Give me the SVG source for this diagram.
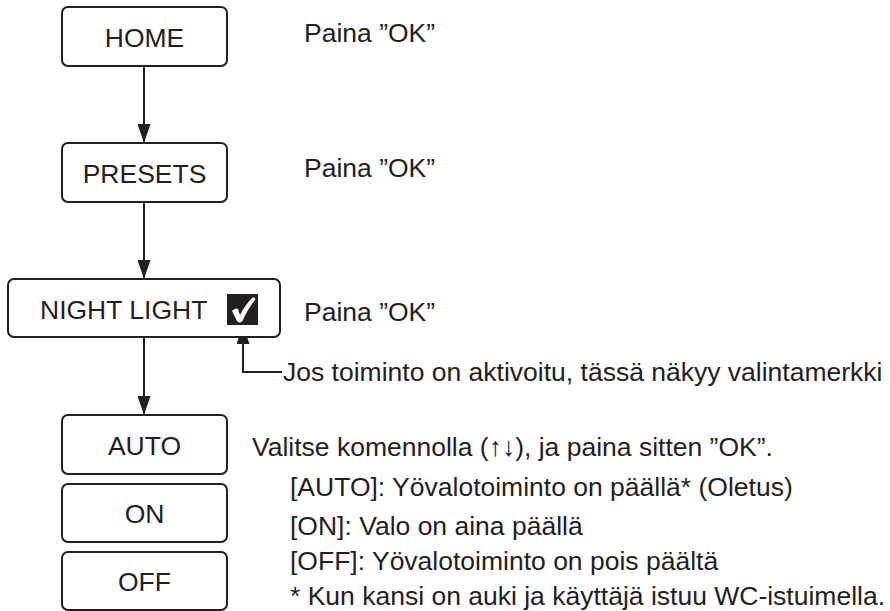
<svg xmlns="http://www.w3.org/2000/svg" width="890" height="611" viewBox="0 0 890 611">
  <defs>
    <style>
      .box { fill: #ffffff; stroke: #231f20; stroke-width: 2; }
      .lbl { font-family: "Liberation Sans", Arial, sans-serif; font-size: 26.5px; fill: #231f20; }
      .mid { text-anchor: middle; }
      .wire { fill: none; stroke: #231f20; stroke-width: 2; }
    </style>
    <marker id="arr" viewBox="0 0 19 13" refX="19" refY="6.5" markerWidth="19" markerHeight="13" markerUnits="userSpaceOnUse" orient="auto">
      <path d="M0,0 L19,6.5 L0,13 Z" fill="#231f20"/>
    </marker>
  </defs>
  <rect width="890" height="611" fill="#ffffff"/>

  <g id="connectors">
    <line class="wire" x1="144" y1="66" x2="144" y2="143" marker-end="url(#arr)"/>
    <line class="wire" x1="144" y1="202" x2="144" y2="279" marker-end="url(#arr)"/>
    <line class="wire" x1="144" y1="338" x2="144" y2="415" marker-end="url(#arr)"/>
    <polyline class="wire" points="282,372 243,372 243,325" marker-end="url(#arr)"/>
  </g>

  <g id="node-home">
    <rect class="box" x="62" y="7" width="165" height="59" rx="6"/>
    <text class="lbl mid" x="144.5" y="47">HOME</text>
  </g>
  <g id="node-presets">
    <rect class="box" x="62" y="143" width="165" height="59" rx="6"/>
    <text class="lbl mid" x="144.5" y="183">PRESETS</text>
  </g>
  <g id="node-nightlight">
    <rect class="box" x="8" y="279" width="272" height="58" rx="6"/>
    <text class="lbl" x="40" y="319">NIGHT LIGHT</text>
    <rect x="227" y="294" width="31" height="31" fill="#231f20"/>
    <path d="M232,311 C234,309 236,308 238,309 L240,315 C243,309 247,303 252,298 C254,297 256,298 255,300 C250,306 246,313 243,320 C242,323 238,323 237,321 Z" fill="#ffffff"/>
  </g>
  <g id="node-auto">
    <rect class="box" x="62" y="415" width="165" height="59" rx="6"/>
    <text class="lbl mid" x="144.5" y="455">AUTO</text>
  </g>
  <g id="node-on">
    <rect class="box" x="62" y="484" width="165" height="58" rx="6"/>
    <text class="lbl mid" x="144.5" y="523">ON</text>
  </g>
  <g id="node-off">
    <rect class="box" x="62" y="552" width="165" height="58" rx="6"/>
    <text class="lbl mid" x="144.5" y="591">OFF</text>
  </g>

  <g id="notes">
    <text class="lbl" x="304" y="42">Paina ”OK”</text>
    <text class="lbl" x="304" y="177">Paina ”OK”</text>
    <text class="lbl" x="304" y="321">Paina ”OK”</text>
    <text class="lbl" x="283" y="381">Jos toiminto on aktivoitu, tässä näkyy valintamerkki</text>
    <text class="lbl" x="252" y="456">Valitse komennolla (↑↓), ja paina sitten ”OK”.</text>
    <text class="lbl" x="290" y="496">[AUTO]: Yövalotoiminto on päällä* (Oletus)</text>
    <text class="lbl" x="290" y="535">[ON]: Valo on aina päällä</text>
    <text class="lbl" x="290" y="570">[OFF]: Yövalotoiminto on pois päältä</text>
    <text class="lbl" x="290" y="605">* Kun kansi on auki ja käyttäjä istuu WC-istuimella.</text>
  </g>
</svg>
